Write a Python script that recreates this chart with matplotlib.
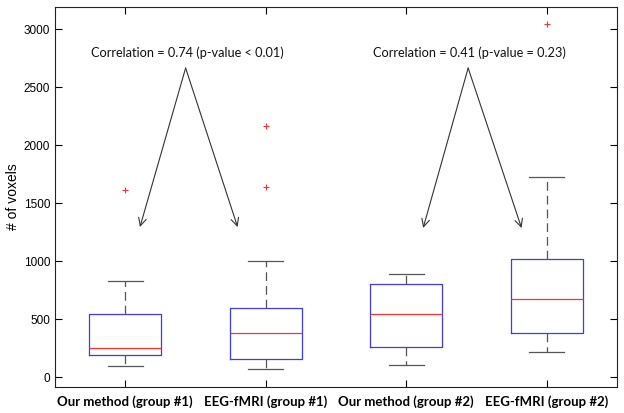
import matplotlib.pyplot as plt

# --- Data ---
labels = ["Our method (group #1)", "EEG-fMRI (group #1)",
          "Our method (group #2)", "EEG-fMRI (group #2)"]
whislo = [95, 69, 103, 216]
q1 = [190, 155, 259, 379]
med = [250, 380, 543, 672]
q3 = [543, 595, 802, 1017]
whishi = [828, 1000, 888, 1724]
fliers = [[1612], [1638, 2164], [], [3043]]

corr_texts = ["Correlation = 0.74 (p-value < 0.01)",
              "Correlation = 0.41 (p-value = 0.23)"]
corr_text_pos = [(1.44, 2800), (3.45, 2800)]
corr_apex = [(1.43, 2664), (3.44, 2664)]
corr_tips = [[(1.105, 1293), (1.80, 1293)], [(3.12, 1285), (3.82, 1285)]]

# --- Plot ---
fig = plt.figure(figsize=(6.24, 4.13), dpi=100)
ax = fig.add_axes([0.088, 0.063, 0.901, 0.920])

stats = [dict(whislo=a, q1=b, med=c, q3=d, whishi=e, fliers=f)
         for a, b, c, d, e, f in zip(whislo, q1, med, q3, whishi, fliers)]
ax.bxp(stats, positions=[1, 2, 3, 4], widths=0.51, patch_artist=False,
       boxprops=dict(color="#3b3bff", lw=0.9),
       medianprops=dict(color="#ff3030", lw=0.9),
       whiskerprops=dict(color="#555555", lw=0.9, linestyle=(0, (7, 4))),
       capprops=dict(color="#555555", lw=0.9),
       capwidths=0.25,
       flierprops=dict(marker="+", markeredgecolor="#ff3030", markersize=5,
                       markeredgewidth=0.8))

for txt, tp, apex, tips in zip(corr_texts, corr_text_pos, corr_apex, corr_tips):
    ax.text(tp[0], tp[1], txt, ha="center", va="center", fontsize=9.2,
            family="Lato", color="#111111")
    for tip in tips:
        ax.annotate("", xy=tip, xytext=apex,
                    arrowprops=dict(arrowstyle="->", color="#333333", lw=0.8,
                                    shrinkA=0, shrinkB=0, mutation_scale=14))

ax.set_xlim(0.5, 4.5)
ax.set_ylim(-86, 3190)
ax.set_yticks(range(0, 3001, 500))
ax.set_xticks([1, 2, 3, 4])
ax.set_xticklabels(labels, fontsize=9.5, fontweight="bold", family="Lato")
ax.tick_params(axis="y", labelsize=8.5, direction="in", length=5, right=True)
ax.tick_params(axis="x", direction="in", length=5, top=True, pad=6)
for lab in ax.get_yticklabels():
    lab.set_family("Liberation Sans")
ax.set_ylabel("# of voxels", fontsize=10, family="Liberation Sans")
ax.yaxis.set_label_coords(-0.062, 0.5)
for sp in ax.spines.values():
    sp.set_linewidth(0.8)
    sp.set_color("#222222")

fig.savefig("out.png", dpi=100)
